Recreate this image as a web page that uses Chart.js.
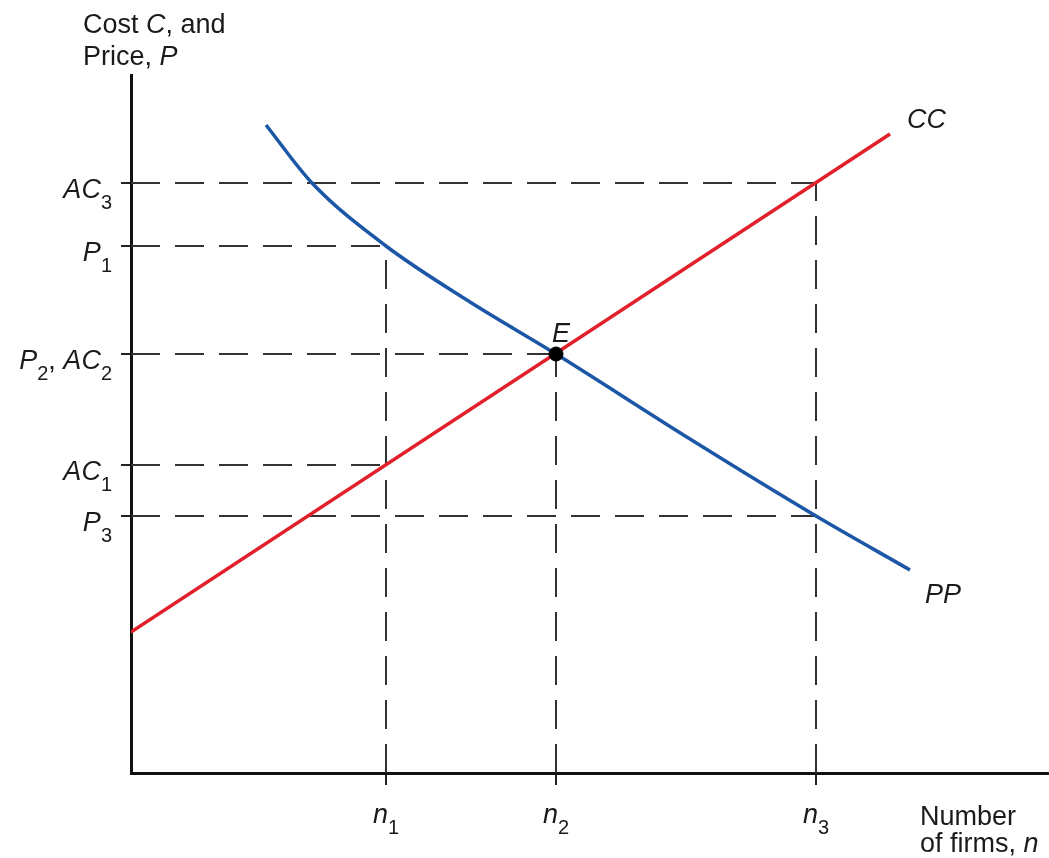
<!DOCTYPE html>
<html>
<head>
<meta charset="utf-8">
<script src="https://cdn.jsdelivr.net/npm/chart.js@4/dist/chart.umd.min.js"></script>
<style>
  html, body { margin: 0; padding: 0; background: #fff; }
  #wrap { width: 1049px; height: 858px; position: relative; }
</style>
</head>
<body>
<div id="wrap"><canvas id="Diagram"></canvas></div>
<script>
const FONT = '"Liberation Sans", Arial, Helvetica, sans-serif';

// number of firms on the x axis (n1, n2, n3)
const nValues = [255, 425, 685];
const nLabels = ["*n*_1", "*n*_2", "*n*_3"];

// cost / price levels on the y axis
const yTickValues = [590, 527, 419, 308, 257];
const yTickLabels = ["*AC*_3", "*P*_1", "*P*_2, *AC*_2", "*AC*_1", "*P*_3"];
const yTickReach = [685, 255, 425, 255, 685]; //how far each horizontal dashed line goes
const nReach = [527, 419, 590]; //how high each vertical dashed line goes

// CC curve (average cost), straight line
const ccX = [0, 759];
const ccY = [141, 639];

// PP curve (price), falls as n grows
const ppX = [135, 181, 255, 339, 425, 559, 685, 779];
const ppY = [648, 590, 527, 471, 419, 334, 257, 203];

// equilibrium point E
const eqX = [425];
const eqY = [419];

const X_MAX = 918;
const Y_MAX = 698;

function toPoints(xs, ys){
    return xs.map((x, i) => ({x: x, y: ys[i]}));
}

// little rich text drawer: *...* is italic, _c is a subscript
function drawRich(ctx, src, x, y, align){
    const segs = [];
    let italic = false;
    let buf = "";
    const flush = () => { if (buf) { segs.push({t: buf, it: italic, sub: false}); buf = ""; } };
    for (let i = 0; i < src.length; i++){
        const c = src[i];
        if (c === "*"){ flush(); italic = !italic; }
        else if (c === "_"){ flush(); segs.push({t: src[++i], it: false, sub: true}); }
        else buf += c;
    }
    flush();
    const fontOf = s => s.sub ? `20px ${FONT}` : `${s.it ? "italic " : ""}27px ${FONT}`;
    let total = 0;
    segs.forEach(s => { ctx.font = fontOf(s); s.w = ctx.measureText(s.t).width; total += s.w; });
    let cx = x;
    if (align === "right") cx = x - total;
    else if (align === "center") cx = x - total / 2;
    segs.forEach(s => {
        ctx.font = fontOf(s);
        ctx.fillText(s.t, cx, s.sub ? y + 11 : y);
        cx += s.w;
    });
}

const labelPlugin = {
    id: "labels",
    afterDraw(chart){
        const ctx = chart.ctx;
        const xs = chart.scales.x;
        const ys = chart.scales.y;
        ctx.save();
        ctx.fillStyle = "#1a1a1a";
        ctx.textBaseline = "alphabetic";
        ctx.textAlign = "left";

        yTickValues.forEach((v, i) => {
            drawRich(ctx, yTickLabels[i], 112, ys.getPixelForValue(v) + 15, "right");
        });
        nValues.forEach((v, i) => {
            drawRich(ctx, nLabels[i], xs.getPixelForValue(v), 823, "center");
        });

        // axis titles
        drawRich(ctx, "Cost *C*, and", 83, 33, "left");
        drawRich(ctx, "Price, *P*", 83, 65, "left");
        drawRich(ctx, "Number", 920, 825, "left");
        drawRich(ctx, "of firms, *n*", 920, 852, "left");

        // curve names and E
        const ccEnd = ccX.length - 1;
        drawRich(ctx, "*CC*", xs.getPixelForValue(ccX[ccEnd]) + 17, ys.getPixelForValue(ccY[ccEnd]) - 6, "left");
        const ppEnd = ppX.length - 1;
        drawRich(ctx, "*PP*", xs.getPixelForValue(ppX[ppEnd]) + 15, ys.getPixelForValue(ppY[ppEnd]) + 33, "left");
        drawRich(ctx, "*E*", xs.getPixelForValue(eqX[0]) - 4, ys.getPixelForValue(eqY[0]) - 12, "left");
        ctx.restore();
    }
};

const guide = {
    type: "scatter",
    showLine: true,
    borderColor: "#333",
    borderWidth: 2,
    borderDash: [29, 15],
    pointRadius: 0,
    order: 5
};

const datasets = [];
datasets.push({
    type: "scatter",
    data: toPoints(eqX, eqY),
    pointRadius: 7,
    pointBackgroundColor: "#000",
    pointBorderColor: "#000",
    order: 0
});
datasets.push({
    type: "scatter",
    showLine: true,
    data: toPoints(ccX, ccY),
    borderColor: "#e2202b",
    borderWidth: 3.5,
    pointRadius: 0,
    order: 2
});
datasets.push({
    type: "scatter",
    showLine: true,
    data: toPoints(ppX, ppY),
    borderColor: "#1b57a6",
    borderWidth: 3.5,
    pointRadius: 0,
    cubicInterpolationMode: "monotone",
    order: 1
});
yTickValues.forEach((v, i) => {
    datasets.push(Object.assign({}, guide, {data: [{x: 0, y: v}, {x: yTickReach[i], y: v}]}));
});
nValues.forEach((v, i) => {
    datasets.push(Object.assign({}, guide, {data: [{x: v, y: 0}, {x: v, y: nReach[i]}]}));
});

const chart = new Chart(document.getElementById("Diagram").getContext("2d"), {
    type: "scatter",
    data: { datasets: datasets },
    options: {
        responsive: true,
        maintainAspectRatio: false,
        animation: false,
        events: [],
        layout: { autoPadding: false, padding: { top: 75, right: 0, left: 0, bottom: 0 } },
        plugins: { legend: { display: false }, tooltip: { enabled: false } },
        scales: {
            x: {
                type: "linear",
                min: 0,
                max: X_MAX,
                afterBuildTicks: s => { s.ticks = nValues.map(v => ({value: v})); },
                afterFit: s => { s.height = 85; s.paddingLeft = 0; s.paddingRight = 0; },
                ticks: { display: false, autoSkip: false },
                grid: { drawOnChartArea: false, drawTicks: true, tickLength: 12, color: "#222", lineWidth: 2 },
                border: { display: true, color: "#111", width: 3 }
            },
            y: {
                type: "linear",
                min: 0,
                max: Y_MAX,
                afterBuildTicks: s => { s.ticks = yTickValues.map(v => ({value: v})); },
                afterFit: s => { s.width = 131; s.paddingTop = 0; s.paddingBottom = 0; },
                ticks: { display: false, autoSkip: false },
                grid: { drawOnChartArea: false, drawTicks: true, tickLength: 10, color: "#222", lineWidth: 2 },
                border: { display: true, color: "#111", width: 3 }
            }
        }
    },
    plugins: [labelPlugin]
});
</script>
</body>
</html>
